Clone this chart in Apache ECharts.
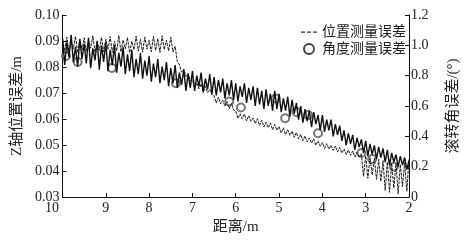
<!DOCTYPE html>
<html><head><meta charset="utf-8">
<script src="https://cdn.jsdelivr.net/npm/echarts@6/dist/echarts.min.js"></script>
<style>html,body{margin:0;padding:0;background:#fff}#c{width:469px;height:240px}</style>
</head><body><div id="c"></div>
<script>
// distance (m), 10 -> 2
var distance = [
10.00,9.95,9.90,9.85,9.80,9.75,9.70,9.65,9.60,9.55,
9.50,9.45,9.40,9.35,9.30,9.25,9.20,9.15,9.10,9.05,
9.00,8.95,8.90,8.85,8.80,8.75,8.70,8.65,8.60,8.55,
8.50,8.45,8.40,8.35,8.30,8.25,8.20,8.15,8.10,8.05,
8.00,7.95,7.90,7.85,7.80,7.75,7.70,7.65,7.60,7.55,
7.50,7.45,7.40,7.35,7.30,7.25,7.20,7.15,7.10,7.05,
7.00,6.95,6.90,6.85,6.80,6.75,6.70,6.65,6.60,6.55,
6.50,6.45,6.40,6.35,6.30,6.25,6.20,6.15,6.10,6.05,
6.00,5.95,5.90,5.85,5.80,5.75,5.70,5.65,5.60,5.55,
5.50,5.45,5.40,5.35,5.30,5.25,5.20,5.15,5.10,5.05,
5.00,4.95,4.90,4.85,4.80,4.75,4.70,4.65,4.60,4.55,
4.50,4.45,4.40,4.35,4.30,4.25,4.20,4.15,4.10,4.05,
4.00,3.95,3.90,3.85,3.80,3.75,3.70,3.65,3.60,3.55,
3.50,3.45,3.40,3.35,3.30,3.25,3.20,3.15,3.10,3.05,
3.00,2.95,2.90,2.85,2.80,2.75,2.70,2.65,2.60,2.55,
2.50,2.45,2.40,2.35,2.30,2.25,2.20,2.15,2.10,2.05,2.00];

// Z-axis position error (m)
var positionError = [
0.0905,0.0862,0.0915,0.0858,0.0898,0.0870,0.0918,0.0855,0.0908,0.0866,
0.0912,0.0860,0.0902,0.0872,0.0920,0.0857,0.0896,0.0864,0.0914,0.0859,
0.0907,0.0868,0.0917,0.0856,0.0900,0.0862,0.0921,0.0858,0.0904,0.0870,
0.0913,0.0855,0.0899,0.0866,0.0919,0.0861,0.0906,0.0857,0.0915,0.0869,
0.0902,0.0859,0.0918,0.0864,0.0909,0.0856,0.0920,0.0867,0.0903,0.0862,
0.0914,0.0858,0.0880,0.0822,0.0808,0.0780,0.0792,0.0764,0.0776,0.0748,
0.0750,0.0720,0.0738,0.0716,0.0735,0.0705,0.0726,0.0701,0.0714,0.0693,
0.0690,0.0662,0.0684,0.0658,0.0672,0.0649,0.0667,0.0640,0.0661,0.0635,
0.0630,0.0602,0.0620,0.0601,0.0619,0.0593,0.0613,0.0591,0.0604,0.0583,
0.0601,0.0575,0.0595,0.0570,0.0588,0.0567,0.0585,0.0559,0.0579,0.0557,
0.0571,0.0546,0.0566,0.0540,0.0558,0.0537,0.0553,0.0529,0.0548,0.0524,
0.0541,0.0516,0.0535,0.0512,0.0527,0.0507,0.0524,0.0499,0.0516,0.0495,
0.0510,0.0487,0.0505,0.0484,0.0498,0.0479,0.0496,0.0473,0.0490,0.0469,
0.0485,0.0463,0.0481,0.0460,0.0477,0.0454,0.0472,0.0452,0.0467,0.0380,
0.0458,0.0372,0.0452,0.0385,0.0449,0.0368,0.0444,0.0360,0.0440,0.0325,
0.0435,0.0318,0.0430,0.0335,0.0428,0.0312,0.0425,0.0340,0.0432,0.0322,0.0445];

// roll angle error (deg)
var angleError = [
1.05,0.87,1.02,0.92,1.07,0.89,0.99,0.86,1.04,0.91,
1.01,0.88,1.05,0.85,0.98,0.90,1.03,0.84,1.00,0.89,
1.02,0.83,0.97,0.87,1.00,0.82,0.95,0.86,0.99,0.81,
0.94,0.83,0.97,0.79,0.91,0.81,0.95,0.78,0.90,0.80,
0.93,0.76,0.88,0.79,0.91,0.75,0.86,0.77,0.89,0.73,
0.85,0.75,0.87,0.72,0.82,0.74,0.84,0.70,0.81,0.72,
0.83,0.70,0.80,0.73,0.82,0.69,0.78,0.71,0.81,0.68,
0.79,0.67,0.77,0.69,0.78,0.65,0.75,0.67,0.77,0.64,
0.75,0.63,0.73,0.66,0.75,0.62,0.72,0.64,0.73,0.60,
0.72,0.61,0.70,0.58,0.71,0.60,0.68,0.57,0.70,0.58,
0.68,0.56,0.65,0.57,0.66,0.53,0.64,0.55,0.62,0.51,
0.60,0.49,0.58,0.50,0.57,0.46,0.56,0.48,0.54,0.44,
0.54,0.43,0.51,0.44,0.51,0.40,0.48,0.41,0.47,0.37,
0.44,0.34,0.42,0.35,0.41,0.31,0.39,0.33,0.38,0.29,
0.37,0.27,0.35,0.28,0.34,0.25,0.33,0.26,0.32,0.23,
0.31,0.21,0.29,0.23,0.28,0.20,0.27,0.21,0.26,0.18,0.24];

// circle markers on the angle curve
var circleDistance = [9.92,9.65,8.86,7.38,6.15,5.88,5.08,4.86,4.60,4.33,4.10,3.10,2.85,2.35];
var circleAngle    = [0.93,0.89,0.85,0.75,0.63,0.59,0.65,0.52,0.56,0.54,0.42,0.29,0.25,0.20];

var leftTicks = ['0.03','0.04','0.05','0.06','0.07','0.08','0.09','0.10'];
var rightTicks = ['0','0.2','0.4','0.6','0.8','1.0','1.2'];

var posData = distance.map(function(d,i){return [d, positionError[i]];});
var angData = distance.map(function(d,i){return [d, angleError[i]];});
var cirData = circleDistance.map(function(d,i){return [d, circleAngle[i]];});

var serif = 'Liberation Serif, Noto Sans CJK SC, serif';
var txt = '#222';
var chart = echarts.init(document.getElementById('c'));
chart.setOption({
  animation: false,
  backgroundColor: '#fff',
  grid: {left: 62.5, right: 54, top: 15, bottom: 43},
  legend: {
    orient: 'vertical', right: 58, top: 20, itemGap: 3,
    itemWidth: 16, itemHeight: 10, itemTextGap: 6,
    textStyle: {fontFamily: serif, fontSize: 14, color: txt},
    data: [
      {name: '位置测量误差', icon: 'path://M0,0L0.01,0ZM0,10L0.01,10ZM0,4.5h4v1.2h-4zM6,4.5h4v1.2h-4zM12,4.5h4v1.2h-4z',
       itemStyle: {color: '#333', borderWidth: 0}},
      {name: '角度测量误差', icon: 'emptyCircle',
       itemStyle: {color: '#444', borderColor: '#444', borderWidth: 1.2}}
    ]
  },
  xAxis: {
    type: 'value', inverse: true, min: 2, max: 10, interval: 1,
    name: '距离/m', nameLocation: 'middle', nameGap: 23,
    nameTextStyle: {fontFamily: serif, fontSize: 15, color: txt},
    axisLine: {lineStyle: {color: '#111', width: 1}},
    axisTick: {inside: true, length: 4, lineStyle: {color: '#111'}},
    splitLine: {show: false},
    axisLabel: {
      fontFamily: serif, fontSize: 14, color: txt, margin: 4,
      formatter: function(v){ return v === 10 ? '{l|10}' : String(v); },
      rich: {l: {fontFamily: serif, fontSize: 14, color: txt, padding: [0, 21, 0, 0]}}
    }
  },
  yAxis: [{
    type: 'value', min: 0.03, max: 0.10, interval: 0.01,
    name: 'Z轴位置误差/m', nameLocation: 'middle', nameGap: 38, nameRotate: 90,
    nameTextStyle: {fontFamily: serif, fontSize: 15, color: txt},
    axisLine: {show: true, lineStyle: {color: '#111', width: 1}},
    axisTick: {show: true, inside: true, length: 4, lineStyle: {color: '#111'}},
    splitLine: {show: false},
    axisLabel: {fontFamily: serif, fontSize: 14, color: txt, margin: 3,
      formatter: function(v){ return leftTicks[Math.round((v - 0.03) * 100)]; }}
  }, {
    type: 'value', min: 0, max: 1.2, interval: 0.2, position: 'right',
    name: '滚转角误差/(°)', nameLocation: 'middle', nameGap: 37, nameRotate: 90,
    nameTextStyle: {fontFamily: serif, fontSize: 15, color: txt},
    axisLine: {show: true, lineStyle: {color: '#111', width: 1}},
    axisTick: {show: true, inside: true, length: 4, lineStyle: {color: '#111'}},
    splitLine: {show: false},
    axisLabel: {fontFamily: serif, fontSize: 14, color: txt, margin: 2,
      formatter: function(v){ return rightTicks[Math.round(v * 5)]; }}
  }],
  series: [{
    name: '位置测量误差', type: 'line', yAxisIndex: 0, data: posData,
    symbol: 'none', lineStyle: {color: '#1a1a1a', width: 1, type: [3, 1]}, itemStyle: {color: '#333'}
  }, {
    name: '角度测量误差', type: 'line', yAxisIndex: 1, data: angData,
    symbol: 'none',
    lineStyle: {color: '#111', width: 1.4}, itemStyle: {color: '#444'}
  }, {
    name: '角度测量误差', type: 'scatter', yAxisIndex: 1, data: cirData,
    symbol: 'emptyCircle', symbolSize: 8, itemStyle: {color: '#555', borderColor: '#555', borderWidth: 1}
  }]
});
</script></body></html>
